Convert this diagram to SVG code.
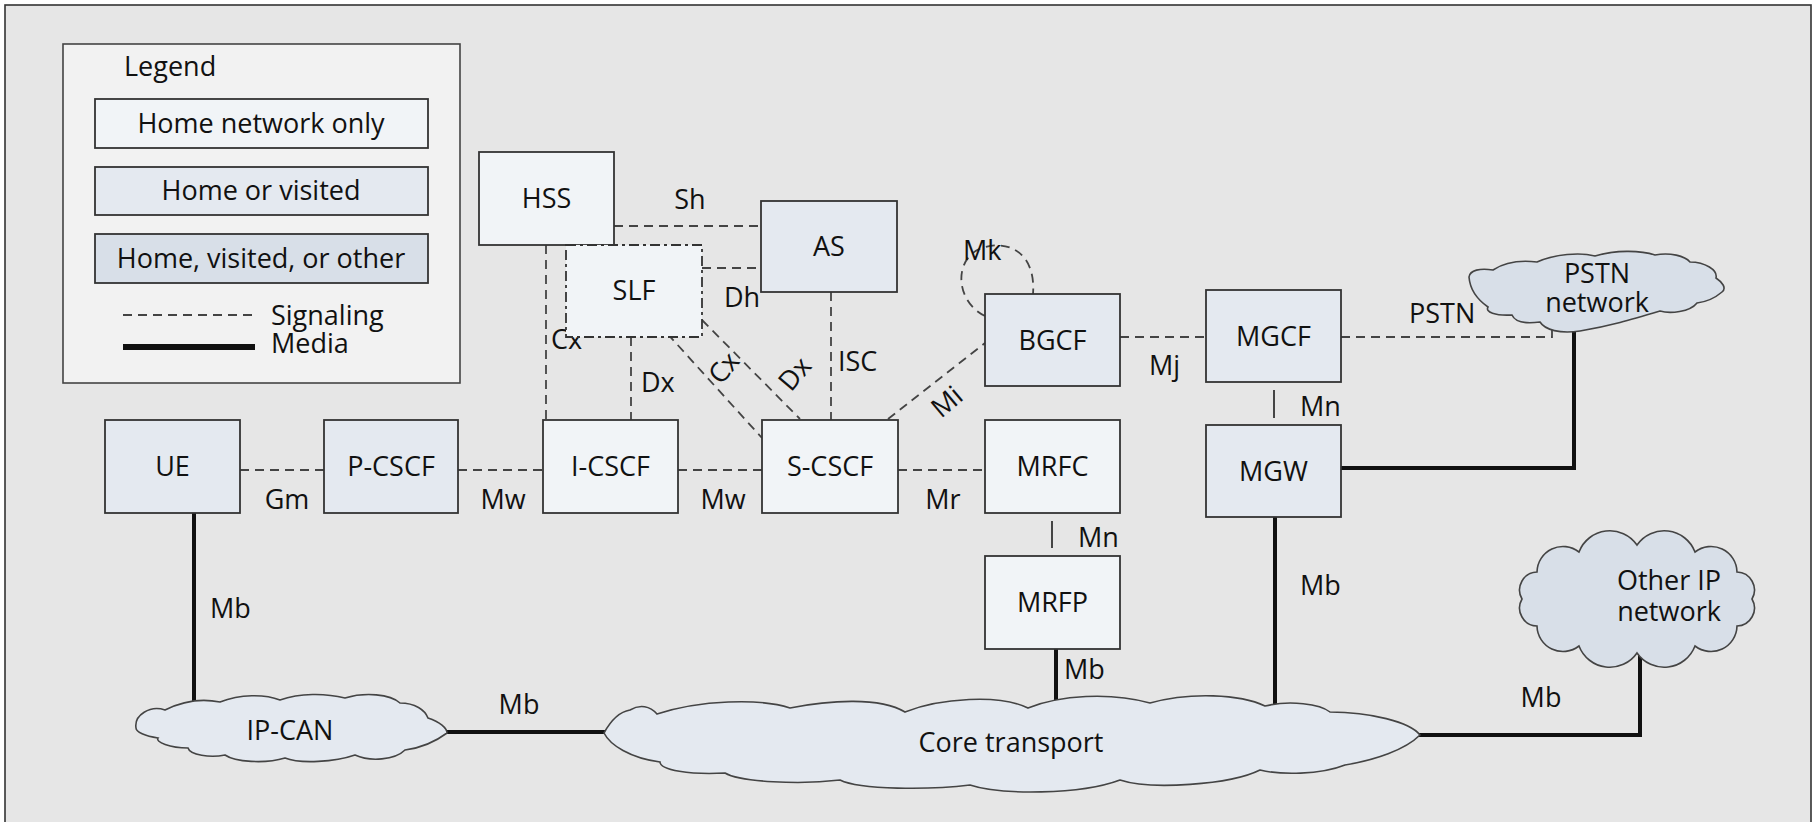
<svg xmlns="http://www.w3.org/2000/svg" width="1814" height="822" viewBox="0 0 1814 822">
  <style>
    text { font-family: "Open Sans", "Noto Sans", "Liberation Sans", sans-serif; font-size: 27px; font-weight: 500; fill: #111; }
    .c { text-anchor: middle; }
    .box { stroke: #333; stroke-width: 1.8; }
    .home { fill: #f1f4f7; }
    .visited { fill: #e4e9f0; }
    .other { fill: #d8dfe8; }
    .sig { fill: none; stroke: #444; stroke-width: 1.8; stroke-dasharray: 9 6; }
    .media { fill: none; stroke: #111; stroke-width: 4; }
    .thin { fill: none; stroke: #333; stroke-width: 1.8; }
    .cloud { stroke: #444; stroke-width: 1.6; }
  </style>

  <!-- frame -->
  <rect x="5" y="5" width="1806" height="830" fill="#e6e6e6" stroke="#333" stroke-width="1.6"/>

  <!-- legend -->
  <g id="legend">
    <rect x="63" y="44" width="397" height="339" fill="#f2f2f2" stroke="#444" stroke-width="1.6"/>
    <text x="124" y="76">Legend</text>
    <rect class="box home" x="95" y="99" width="333" height="49"/>
    <text class="c" x="261" y="133">Home network only</text>
    <rect class="box visited" x="95" y="167" width="333" height="48"/>
    <text class="c" x="261" y="200">Home or visited</text>
    <rect class="box other" x="95" y="234" width="333" height="49"/>
    <text class="c" x="261" y="268">Home, visited, or other</text>
    <line class="sig" x1="123" y1="315" x2="255" y2="315"/>
    <text x="271" y="325">Signaling</text>
    <line x1="123" y1="347" x2="255" y2="347" stroke="#111" stroke-width="6"/>
    <text x="271" y="353">Media</text>
  </g>

  <!-- interfaces -->
  <g id="connectors">
    <!-- signaling -->
    <line class="sig" x1="240" y1="470" x2="324" y2="470"/>
    <line class="sig" x1="458" y1="470" x2="543" y2="470"/>
    <line class="sig" x1="678" y1="470" x2="762" y2="470"/>
    <line class="sig" x1="898" y1="470" x2="985" y2="470"/>
    <line class="sig" x1="614" y1="226" x2="761" y2="226"/>
    <line class="sig" x1="702" y1="268" x2="761" y2="268"/>
    <line class="sig" x1="546" y1="245" x2="546" y2="420"/>
    <line class="sig" x1="631" y1="337" x2="631" y2="420"/>
    <line class="sig" x1="831" y1="292" x2="831" y2="420"/>
    <line class="sig" x1="587" y1="245" x2="762" y2="438"/>
    <line class="sig" x1="702" y1="320" x2="800" y2="419"/>
    <line class="sig" x1="888" y1="419" x2="985" y2="343"/>
    <path class="sig" d="M985,316 C955,302 952,256 985,247 C1012,240 1036,256 1033,294"/>
    <line class="sig" x1="1120" y1="337" x2="1206" y2="337"/>
    <path class="sig" d="M1341,337 H1552 V322"/>
    <!-- media gateway control -->
    <line class="thin" x1="1274" y1="390" x2="1274" y2="418"/>
    <line class="thin" x1="1052" y1="521" x2="1052" y2="548"/>
    <!-- media -->
    <line class="media" x1="194" y1="513" x2="194" y2="706"/>
    <line class="media" x1="440" y1="732" x2="610" y2="732"/>
    <line class="media" x1="1056" y1="649" x2="1056" y2="706"/>
    <line class="media" x1="1275" y1="517" x2="1275" y2="712"/>
    <path class="media" d="M1341,468 H1574 V322"/>
    <path class="media" d="M1412,735 H1640 V650"/>
  </g>

  <!-- interface labels -->
  <g id="labels">
    <text class="c" x="287" y="509">Gm</text>
    <text class="c" x="503" y="509">Mw</text>
    <text class="c" x="723" y="509">Mw</text>
    <text class="c" x="943" y="509">Mr</text>
    <text class="c" x="690" y="209">Sh</text>
    <text x="724" y="307">Dh</text>
    <text x="551" y="349">Cx</text>
    <text x="641" y="392">Dx</text>
    <text x="838" y="371">ISC</text>
    <text class="c" transform="translate(724,368) rotate(-50)" y="9">Cx</text>
    <text class="c" transform="translate(795,374) rotate(-50)" y="9">Dx</text>
    <text class="c" transform="translate(947,402) rotate(-40)" y="9">Mi</text>
    <text x="963" y="260">Mk</text>
    <text x="1149" y="375">Mj</text>
    <text x="1300" y="416">Mn</text>
    <text x="1078" y="547">Mn</text>
    <text x="1409" y="323">PSTN</text>
    <text x="210" y="618">Mb</text>
    <text class="c" x="519" y="714">Mb</text>
    <text x="1064" y="679">Mb</text>
    <text x="1300" y="595">Mb</text>
    <text class="c" x="1541" y="707">Mb</text>
  </g>

  <!-- functional entities -->
  <g id="hss"><rect class="box home" x="479" y="152" width="135" height="93"/><text class="c" x="546.5" y="208">HSS</text></g>
  <g id="slf"><rect class="home" x="566" y="245" width="136" height="92" stroke="#333" stroke-width="1.8" stroke-dasharray="10 4 3 4"/><text class="c" x="634" y="300">SLF</text></g>
  <g id="as"><rect class="box visited" x="761" y="201" width="136" height="91"/><text class="c" x="829" y="256">AS</text></g>
  <g id="ue"><rect class="box visited" x="105" y="420" width="135" height="93"/><text class="c" x="172.5" y="476">UE</text></g>
  <g id="p-cscf"><rect class="box visited" x="324" y="420" width="134" height="93"/><text class="c" x="391" y="476">P-CSCF</text></g>
  <g id="i-cscf"><rect class="box home" x="543" y="420" width="135" height="93"/><text class="c" x="610.5" y="476">I-CSCF</text></g>
  <g id="s-cscf"><rect class="box home" x="762" y="420" width="136" height="93"/><text class="c" x="830" y="476">S-CSCF</text></g>
  <g id="mrfc"><rect class="box home" x="985" y="420" width="135" height="93"/><text class="c" x="1052.5" y="476">MRFC</text></g>
  <g id="mrfp"><rect class="box home" x="985" y="556" width="135" height="93"/><text class="c" x="1052.5" y="612">MRFP</text></g>
  <g id="bgcf"><rect class="box visited" x="985" y="294" width="135" height="92"/><text class="c" x="1052.5" y="349.5">BGCF</text></g>
  <g id="mgcf"><rect class="box visited" x="1206" y="290" width="135" height="92"/><text class="c" x="1273.5" y="345.5">MGCF</text></g>
  <g id="mgw"><rect class="box visited" x="1206" y="425" width="135" height="92"/><text class="c" x="1273.5" y="480.5">MGW</text></g>

  <!-- networks -->
  <g id="ip-can">
    <path class="cloud visited" d="M136,728 C134,715 150,705 165,710 C185,700 205,699 220,702 C240,694 265,694 280,700 C300,693 325,693 345,698 C365,692 390,694 400,703 C415,703 425,710 428,718 C440,722 447,728 447,733 C435,742 420,748 405,750 C395,760 370,762 355,755 C335,762 300,764 285,758 C265,764 235,762 225,755 C210,758 190,755 188,748 C170,748 155,742 158,738 C145,736 136,732 136,728 Z"/>
    <text class="c" x="290" y="740">IP-CAN</text>
  </g>
  <g id="core">
    <path class="cloud visited" d="M604,733 C610,722 618,712 630,710 C640,704 650,706 657,714 C700,700 760,698 790,708 C830,700 880,697 905,712 C940,698 1000,694 1028,708 C1060,695 1110,692 1150,703 C1190,692 1240,694 1265,706 C1290,700 1320,704 1330,712 C1370,712 1410,722 1420,735 C1405,750 1375,760 1345,765 C1320,775 1280,775 1260,770 C1230,785 1150,790 1120,780 C1080,795 1000,795 970,785 C930,790 860,790 840,780 C800,785 740,782 725,773 C690,775 660,770 660,762 C630,758 610,745 604,733 Z"/>
    <text class="c" x="1011" y="752">Core transport</text>
  </g>
  <g id="pstn">
    <path class="cloud other" d="M1469,277 C1470,270 1480,268 1493,270 C1505,262 1520,260 1537,262 C1555,254 1580,252 1595,256 C1615,250 1640,250 1655,255 C1670,252 1685,256 1690,262 C1705,262 1718,270 1716,278 C1722,282 1727,288 1722,292 C1715,298 1705,302 1697,303 C1690,312 1670,314 1660,311 C1630,320 1610,326 1580,331 C1560,334 1545,330 1540,322 C1525,324 1515,322 1512,315 C1495,316 1485,312 1488,307 C1478,300 1470,290 1469,277 Z"/>
    <text class="c" x="1597" y="283">PSTN</text>
    <text class="c" x="1597" y="312">network</text>
  </g>
  <g id="other-ip">
    <path class="cloud other" d="M1752,599 A18,18 0 0 1 1737,626 A26,26 0 0 1 1695,646 A33,33 0 0 1 1637,653 A33,33 0 0 1 1579,646 A26,26 0 0 1 1537,626 A18,18 0 0 1 1522,599 A18,18 0 0 1 1537,572 A26,26 0 0 1 1579,552 A33,33 0 0 1 1637,545 A33,33 0 0 1 1695,552 A26,26 0 0 1 1737,572 A18,18 0 0 1 1752,599 Z"/>
    <text class="c" x="1669" y="590">Other IP</text>
    <text class="c" x="1669" y="621">network</text>
  </g>
</svg>
